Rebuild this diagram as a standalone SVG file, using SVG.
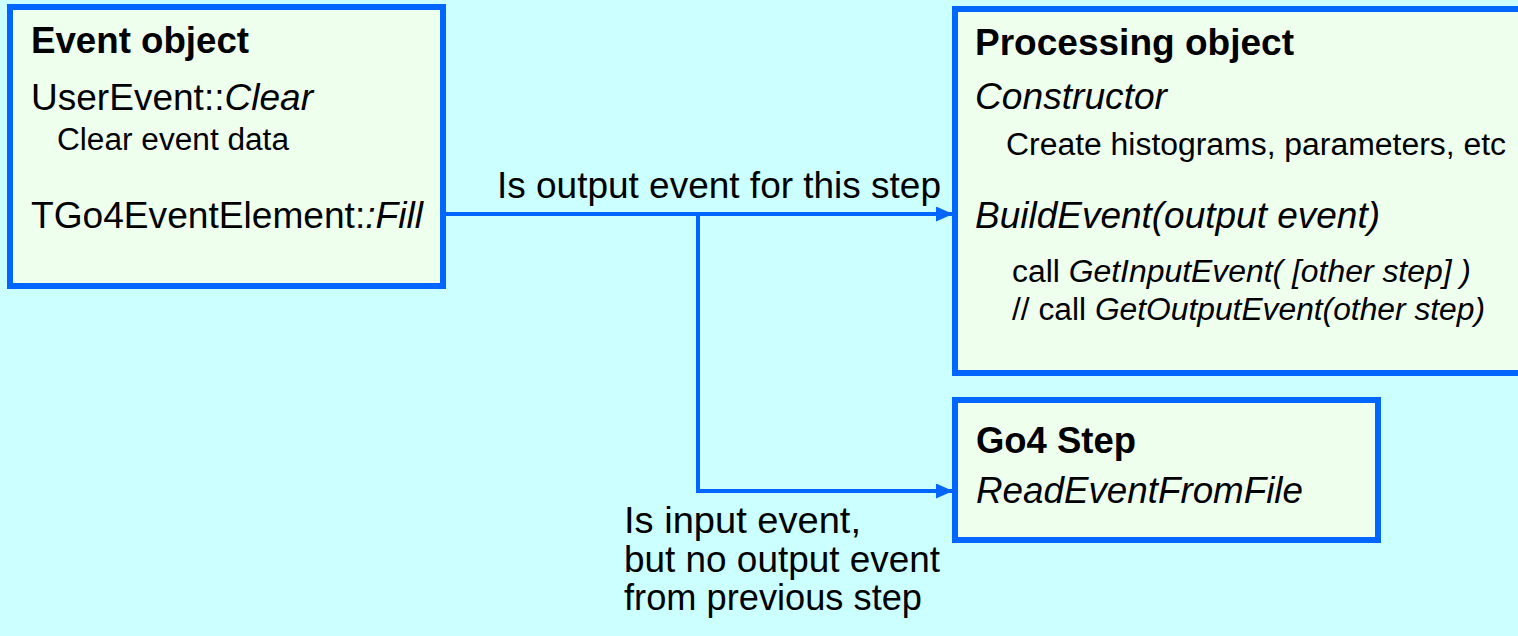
<svg xmlns="http://www.w3.org/2000/svg" width="1518" height="636" viewBox="0 0 1518 636">
  <style>
    .box { fill: #EEFFEE; stroke: #0066FF; stroke-width: 6; }
    .wire { fill: none; stroke: #0066FF; stroke-width: 4; }
    text { font-family: "Liberation Sans", Arial, sans-serif; fill: #000; }
    .big { font-size: 36px; }
    .small { font-size: 31px; }
    .bold { font-weight: bold; }
    .it { font-style: italic; }
  </style>
  <defs>
    <marker id="arrow" markerUnits="userSpaceOnUse" markerWidth="17" markerHeight="15" refX="17" refY="7.5" orient="auto">
      <path d="M0,0 L17,7.5 L0,15 z" fill="#0066FF"/>
    </marker>
  </defs>

  <rect x="0" y="0" width="1518" height="636" fill="#CCFFFF"/>

  <!-- connectors -->
  <g id="connectors">
    <path class="wire" d="M446,214 L953,214" marker-end="url(#arrow)"/>
    <path class="wire" d="M698,214 L698,491 L953,491" marker-end="url(#arrow)"/>
    <text class="big" x="497" y="198" textLength="444" lengthAdjust="spacingAndGlyphs">Is output event for this step</text>
    <text class="big" x="624" y="533" textLength="237" lengthAdjust="spacingAndGlyphs">Is input event,</text>
    <text class="big" x="624" y="572" textLength="316" lengthAdjust="spacingAndGlyphs">but no output event</text>
    <text class="big" x="624" y="610" textLength="298" lengthAdjust="spacingAndGlyphs">from previous step</text>
  </g>

  <!-- event object -->
  <g id="event-object">
    <rect class="box" x="10" y="7" width="433" height="279"/>
    <text class="big bold" x="31" y="53" textLength="218" lengthAdjust="spacingAndGlyphs">Event object</text>
    <text class="big" x="31" y="110" textLength="282" lengthAdjust="spacingAndGlyphs">UserEvent::<tspan class="it">Clear</tspan></text>
    <text class="small" x="57" y="150" textLength="232" lengthAdjust="spacingAndGlyphs">Clear event data</text>
    <text class="big" x="31" y="228" textLength="392" lengthAdjust="spacingAndGlyphs">TGo4EventElement:<tspan class="it">:Fill</tspan></text>
  </g>

  <!-- processing object -->
  <g id="processing-object">
    <rect class="box" x="955" y="9" width="620" height="364"/>
    <text class="big bold" x="975" y="55" textLength="319" lengthAdjust="spacingAndGlyphs">Processing object</text>
    <text class="big it" x="975" y="109" textLength="192" lengthAdjust="spacingAndGlyphs">Constructor</text>
    <text class="small" x="1006" y="155" textLength="500" lengthAdjust="spacingAndGlyphs">Create histograms, parameters, etc</text>
    <text class="big it" x="975" y="228" textLength="405" lengthAdjust="spacingAndGlyphs">BuildEvent(output event)</text>
    <text class="small" x="1012" y="282" textLength="459" lengthAdjust="spacingAndGlyphs">call <tspan class="it">GetInputEvent( [other step] )</tspan></text>
    <text class="small" x="1012" y="320" textLength="473" lengthAdjust="spacingAndGlyphs">// call <tspan class="it">GetOutputEvent(other step)</tspan></text>
  </g>

  <!-- go4 step -->
  <g id="go4-step">
    <rect class="box" x="955" y="400" width="423" height="140"/>
    <text class="big bold" x="976" y="453" textLength="160" lengthAdjust="spacingAndGlyphs">Go4 Step</text>
    <text class="big it" x="976" y="503" textLength="327" lengthAdjust="spacingAndGlyphs">ReadEventFromFile</text>
  </g>
</svg>
